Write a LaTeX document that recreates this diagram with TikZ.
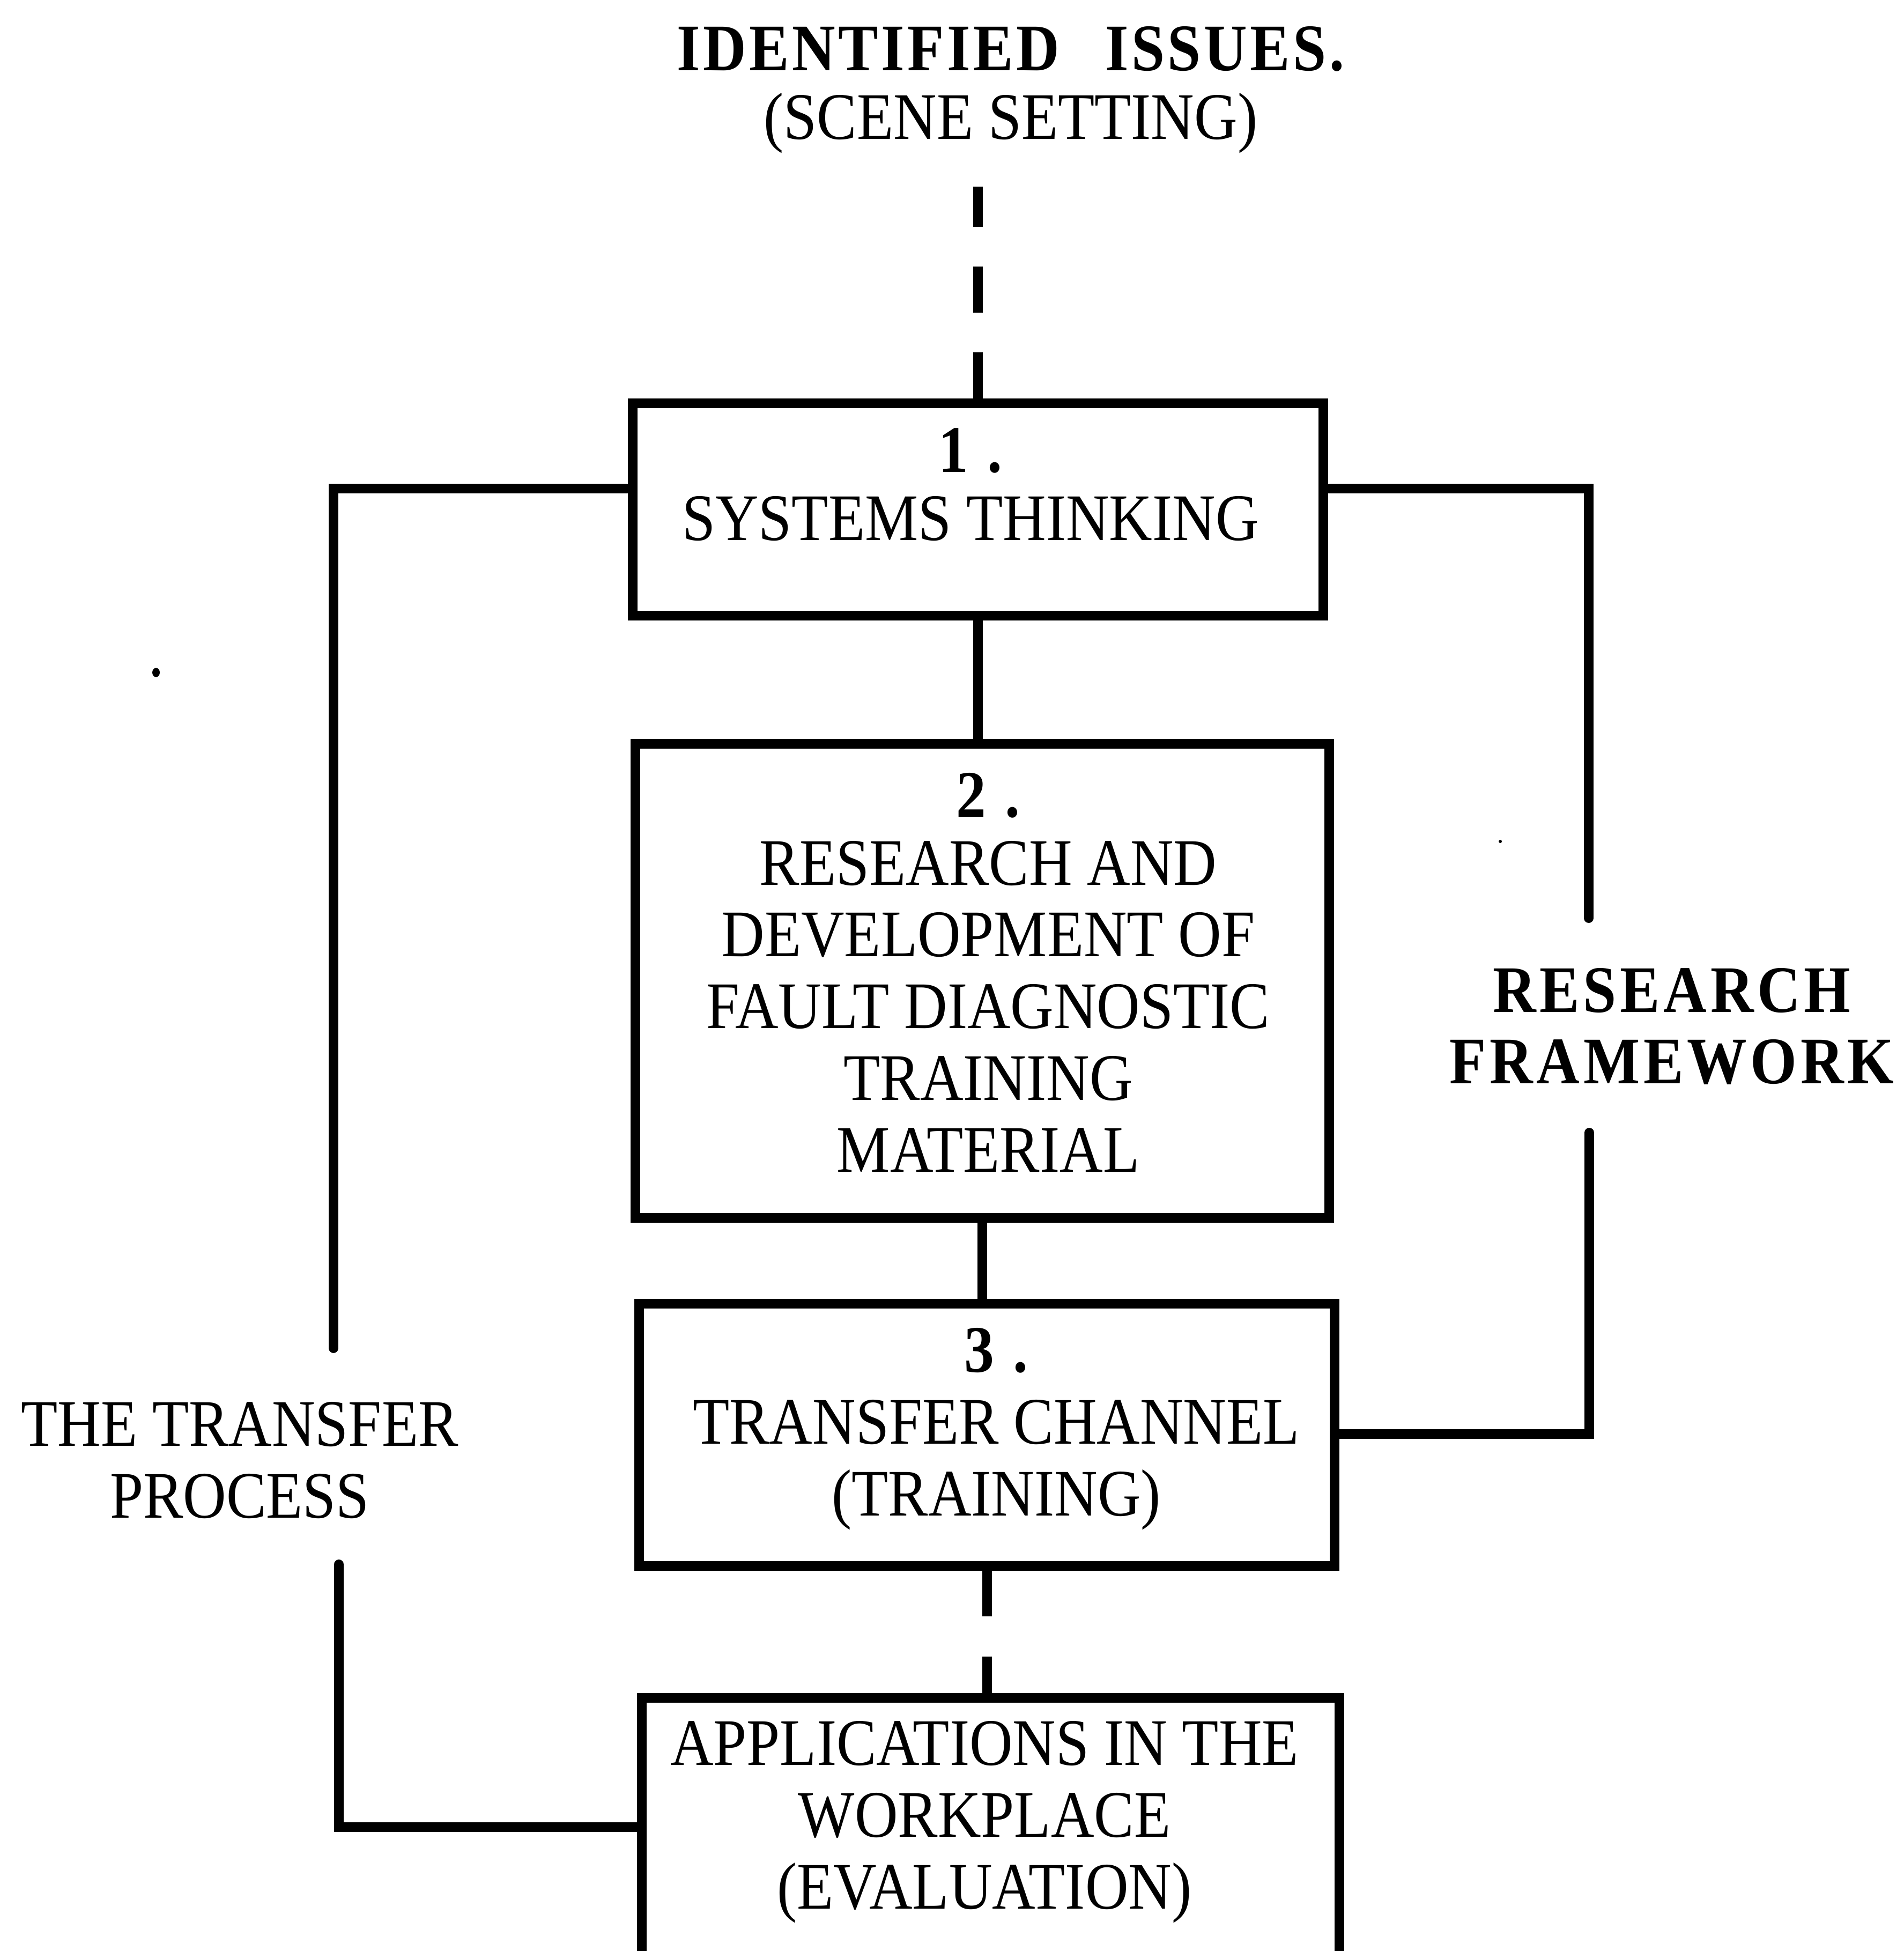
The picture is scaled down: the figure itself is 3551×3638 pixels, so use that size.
\documentclass[tikz,border=0pt]{standalone}
\usepackage{fontspec}
\setmainfont{Liberation Serif}[FakeStretch=0.9]
\newcommand\firstline{\rule{0pt}{10pt}}
\begin{document}
\begin{tikzpicture}[x=0.1pt, y=-0.1pt,
  box/.style={draw, line width=1.8pt, inner sep=0pt},
  wire/.style={line width=1.8pt, line cap=round},
  dashwire/.style={line width=1.8pt, line cap=butt, dash pattern=on 8.6pt off 7.4pt},
  txt/.style={align=center, inner sep=0pt, anchor=north,
              font={\fontsize{12.4pt}{13.4pt}\selectfont}},
  spaced/.style={txt, font={\fontsize{12.4pt}{13.4pt}\selectfont\bfseries\addfontfeature{LetterSpace=5.5}}}]
\useasboundingbox (0,0) rectangle (3551,3638);
\clip (0,0) rectangle (3551,3638);

% heading
\node[txt] (head) at (1885,30)
  {{\bfseries\addfontfeature{LetterSpace=4.5}\firstline IDENTIFIED\hspace{8.5pt}ISSUES.}\\[-0.6pt](SCENE SETTING)};
\coordinate (headfoot) at (1822,348);

% the four stages
\node[box, minimum width=128.8pt, minimum height=39.6pt] (box1) at (1824,950) {};
\node[box, minimum width=129.4pt, minimum height=88.4pt] (box2) at (1832,1829) {};
\node[box, minimum width=129.7pt, minimum height=48.9pt] (box3) at (1840.5,2675.5) {};
\node[box, minimum width=130.1pt, minimum height=80pt]   (box4) at (1847.5,3566) {};

\node[txt] (t1) at (1810,779)
  {{\bfseries\firstline 1\kern3.5pt.}\\[-0.7pt]SYSTEMS THINKING};
\node[txt] (t2) at (1843,1421)
  {{\bfseries\firstline 2\kern3.5pt.}\\[-0.7pt]RESEARCH AND\\DEVELOPMENT OF\\FAULT DIAGNOSTIC\\TRAINING\\MATERIAL};
\node[txt] (t3) at (1858,2456)
  {{\bfseries\firstline 3\kern3.5pt.}\\TRANSFER CHANNEL\\(TRAINING)};
\node[txt] (t4) at (1836,3189)
  {\firstline APPLICATIONS IN THE\\WORKPLACE\\(EVALUATION)};

% side labels
\node[txt] (transfer) at (447,2594) {\firstline THE TRANSFER\\PROCESS};
\node[spaced] (framework) at (3118,1785) {\firstline RESEARCH\\FRAMEWORK};

% main chain
\draw[dashwire] (box1.north) -- (box1.north |- headfoot);
\draw[wire] (box1.south) -- (box1.south |- box2.north);
\draw[wire] (box2.south) -- (box2.south |- box3.north);
\draw[dashwire, dash pattern=on 8.5pt off 7.5pt] (box3.south) -- (box3.south |- box4.north);

% the transfer process loop
\coordinate (lc1) at (622,911);
\coordinate (lend1) at (622,2514);
\coordinate (lstart2) at (632,2917);
\coordinate (lc2) at (632,3407);
\draw[wire] (box1.west |- lc1) -- (lc1) -- (lend1);
\draw[wire] (lstart2) -- (lc2) -- (box4.west |- lc2);

% research framework loop
\coordinate (rc1) at (2963,911);
\coordinate (rend1) at (2963,1712);
\coordinate (rstart2) at (2964,2112);
\coordinate (rc2) at (2964,2674);
\draw[wire] (box1.east |- rc1) -- (rc1) -- (rend1);
\draw[wire] (rstart2) -- (rc2) -- (box3.east |- rc2);

% stray marks
\fill (291,1254) ellipse [x radius=0.7pt, y radius=0.85pt];
\fill (2798,1569) circle [radius=0.3pt];
\end{tikzpicture}
\end{document}
